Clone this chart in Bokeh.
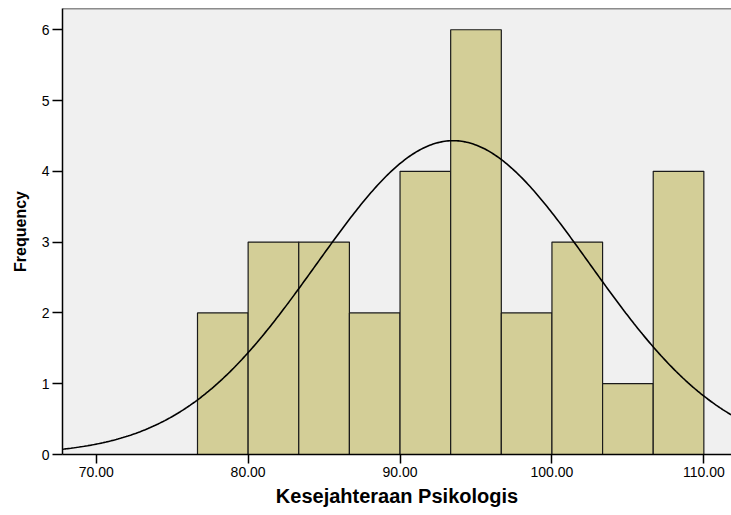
import numpy as np
from bokeh.plotting import figure
from bokeh.models import FixedTicker, Range1d, NumeralTickFormatter, Span
from bokeh.embed import file_html
from bokeh.resources import INLINE

# Histogram data (bin edges and frequencies)
bin_left = [76.667, 80.0, 83.333, 86.667, 90.0, 93.333, 96.667, 100.0, 103.333, 106.667]
bin_right = [80.0, 83.333, 86.667, 90.0, 93.333, 96.667, 100.0, 103.333, 106.667, 110.0]
counts = [2, 3, 3, 2, 4, 6, 2, 3, 1, 4]

# Normal curve parameters (fitted)
mean_val = 93.5
sd_val = 9.0
n_obs = 30
bin_width = 10.0 / 3.0

x_ticks = [70, 80, 90, 100, 110]
y_ticks = [0, 1, 2, 3, 4, 5, 6]

x_start, x_end = 67.78, 111.82
y_start, y_end = 0, 6.30

p = figure(width=731, height=515, output_backend="svg", toolbar_location=None,
           x_range=Range1d(x_start, x_end), y_range=Range1d(y_start, y_end),
           min_border_left=62, min_border_right=0, min_border_top=8, min_border_bottom=61)

p.background_fill_color = "#F0F0F0"
p.border_fill_color = "white"
p.outline_line_color = None
p.xgrid.visible = False
p.ygrid.visible = False

p.quad(left=bin_left, right=bin_right, top=counts, bottom=0,
       fill_color="#D3CE97", line_color="#1a1a1a", line_width=1.2)

xs = np.linspace(x_start, x_end, 400)
ys = n_obs * bin_width / (sd_val * np.sqrt(2 * np.pi)) * np.exp(-0.5 * ((xs - mean_val) / sd_val) ** 2)
p.line(xs, ys, line_color="black", line_width=1.6)

p.add_layout(Span(location=y_end, dimension="width", line_color="#222222", line_width=1.5))

font = "Liberation Sans"

p.xaxis.ticker = FixedTicker(ticks=x_ticks)
p.xaxis.formatter = NumeralTickFormatter(format="0.00")
p.xaxis.axis_label = "Kesejahteraan Psikologis"
p.xaxis.axis_label_text_font = font
p.xaxis.axis_label_text_font_style = "bold"
p.xaxis.axis_label_text_font_size = "20px"
p.xaxis.axis_label_text_color = "black"
p.xaxis.axis_label_standoff = 5
p.xaxis.major_label_text_font = font
p.xaxis.major_label_text_font_size = "14px"
p.xaxis.major_label_text_color = "black"
p.xaxis.major_label_standoff = 3
p.xaxis.major_tick_out = 9
p.xaxis.major_tick_in = 0
p.xaxis.minor_tick_out = 0
p.xaxis.minor_tick_in = 0
p.xaxis.axis_line_color = "black"
p.xaxis.major_tick_line_color = "black"
p.xaxis.axis_line_width = 1.5
p.xaxis.major_tick_line_width = 1.5

p.yaxis.ticker = FixedTicker(ticks=y_ticks)
p.yaxis.axis_label = "Frequency"
p.yaxis.axis_label_text_font = font
p.yaxis.axis_label_text_font_style = "bold"
p.yaxis.axis_label_text_font_size = "16px"
p.yaxis.axis_label_text_color = "black"
p.yaxis.axis_label_standoff = 10
p.yaxis.major_label_text_font = font
p.yaxis.major_label_text_font_size = "14px"
p.yaxis.major_label_text_color = "black"
p.yaxis.major_label_standoff = 3
p.yaxis.major_tick_out = 10
p.yaxis.major_tick_in = 0
p.yaxis.minor_tick_out = 0
p.yaxis.minor_tick_in = 0
p.yaxis.axis_line_color = "black"
p.yaxis.major_tick_line_color = "black"
p.yaxis.axis_line_width = 1.5
p.yaxis.major_tick_line_width = 1.5

open("out.html", "w").write(file_html(p, INLINE))
